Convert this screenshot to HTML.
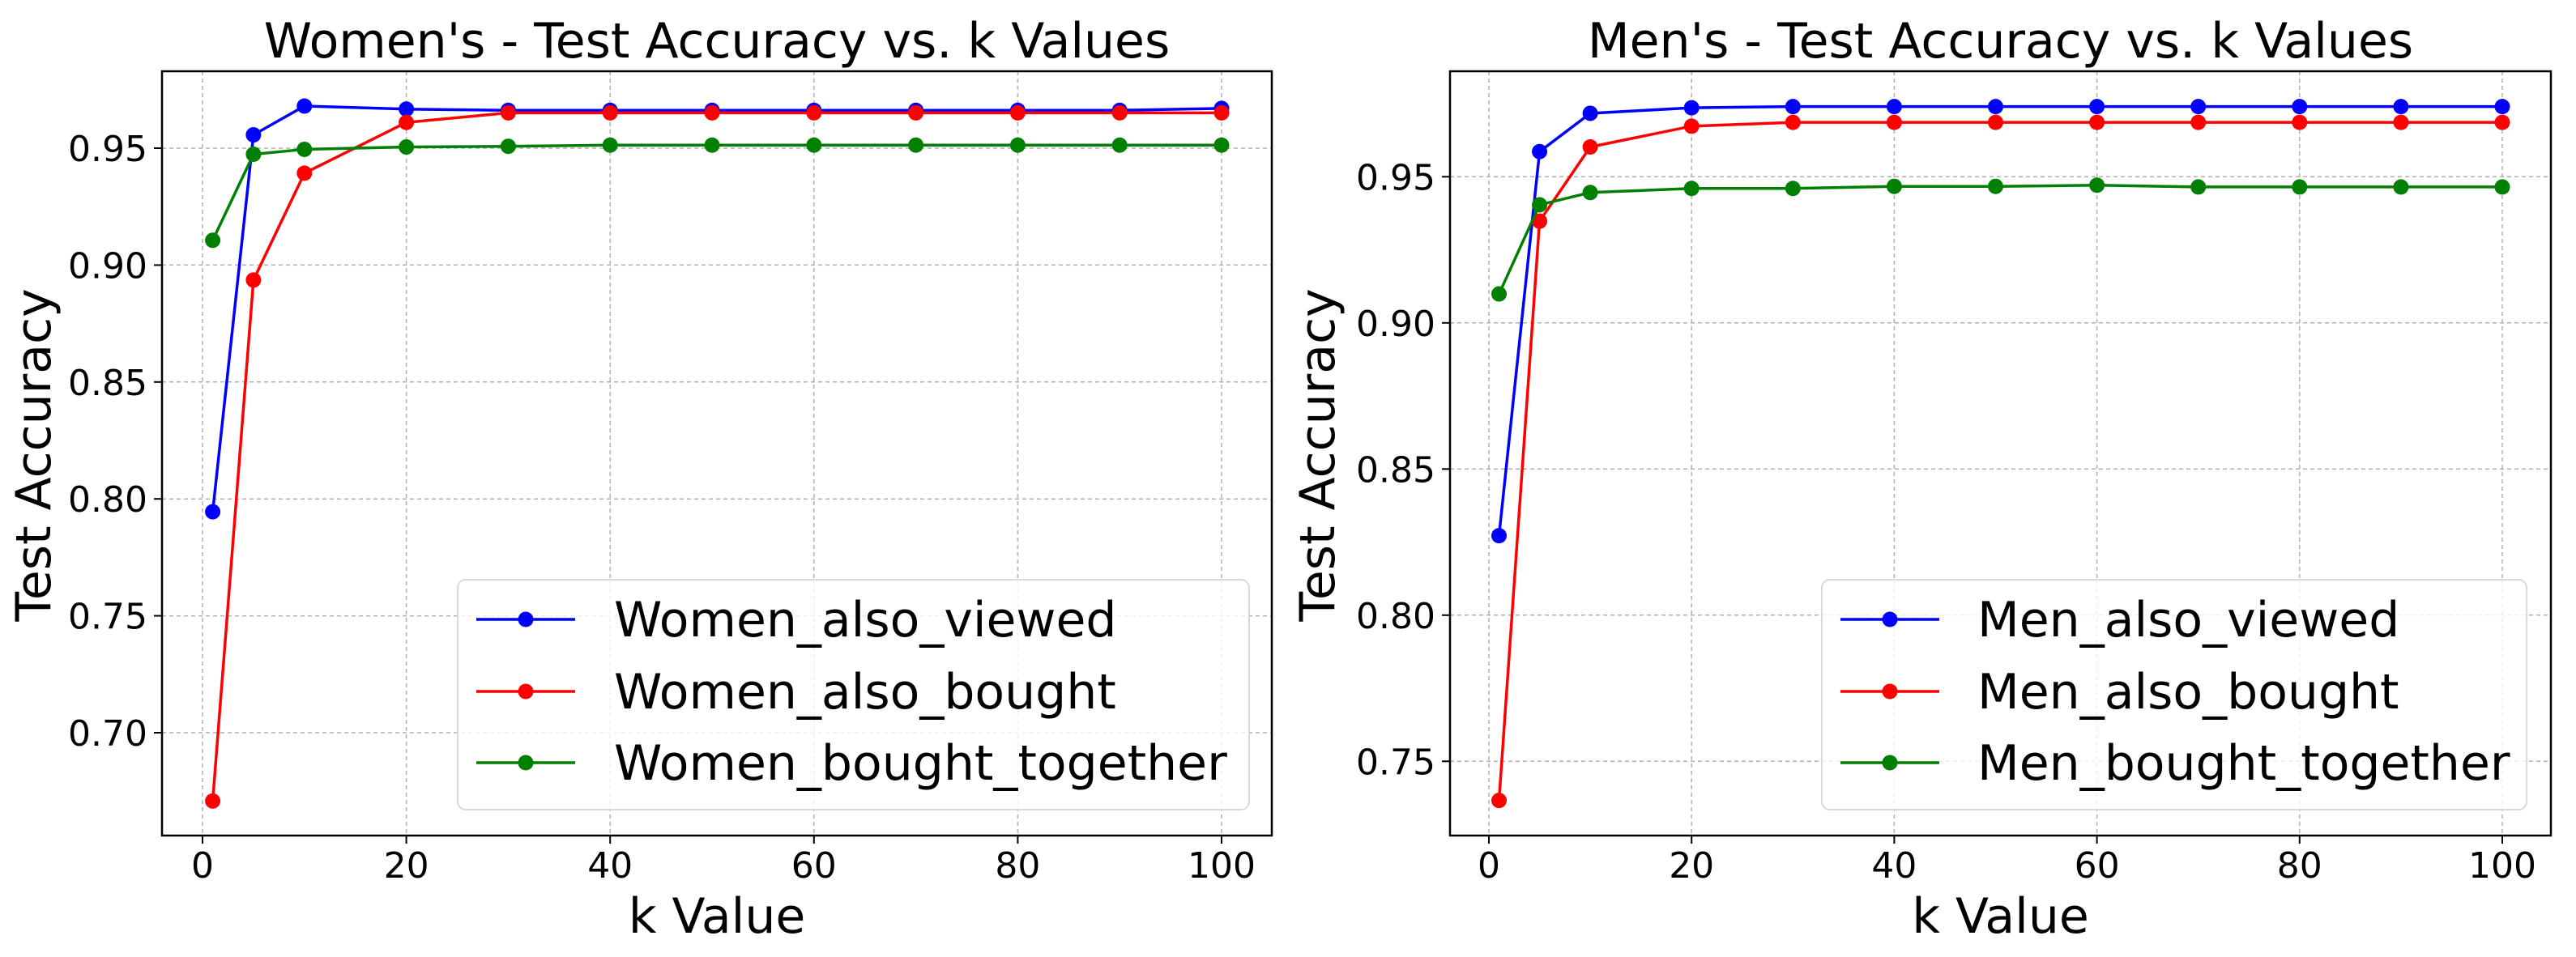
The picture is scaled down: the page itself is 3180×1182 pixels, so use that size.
<!DOCTYPE html>
<html><head><meta charset="utf-8"><style>html,body{margin:0;padding:0;background:#fff}svg{display:block}text{font-family:"DejaVu Sans","Liberation Sans",sans-serif;fill:#000}</style></head>
<body>
<svg id="chart" width="3180" height="1182" viewBox="0 0 3180 1182" xmlns="http://www.w3.org/2000/svg"></svg>
<script>
const kValues = [1,5,10,20,30,40,50,60,70,80,90,100];
const womenViewed = [0.7945,0.9557,0.968,0.9667,0.9662,0.9662,0.9662,0.9662,0.9662,0.9662,0.9662,0.967];
const womenBought = [0.6708,0.8936,0.9393,0.961,0.9651,0.9651,0.9651,0.9651,0.9651,0.9651,0.9651,0.9651];
const womenTogether = [0.9106,0.9474,0.9495,0.9505,0.9508,0.9513,0.9513,0.9513,0.9513,0.9513,0.9513,0.9513];
const menViewed = [0.8272,0.9586,0.9717,0.9736,0.974,0.974,0.974,0.974,0.974,0.974,0.974,0.974];
const menBought = [0.7366,0.9348,0.9602,0.9673,0.9686,0.9686,0.9686,0.9686,0.9686,0.9686,0.9686,0.9686];
const menTogether = [0.9099,0.9404,0.9446,0.946,0.946,0.9467,0.9467,0.9471,0.9465,0.9465,0.9465,0.9465];
const xTicks = [0,20,40,60,80,100];
const womenYTicks = [0.70,0.75,0.80,0.85,0.90,0.95];
const menYTicks = [0.75,0.80,0.85,0.90,0.95];
const womenLabels = ["Women_also_viewed","Women_also_bought","Women_bought_together"];
const menLabels = ["Men_also_viewed","Men_also_bought","Men_bought_together"];
const colors = ["#0000ff","#ff0000","#008000"];

const NS="http://www.w3.org/2000/svg";
const svg=document.getElementById('chart');
function mk(tag,attrs,parent){const e=document.createElementNS(NS,tag);for(const k in attrs)e.setAttribute(k,attrs[k]);(parent||svg).appendChild(e);return e;}

function panel(p){
  const g=mk('g',{});
  
  
  const X=v=>p.x0+(v-0)*(p.x100-p.x0)/100;
  const Y=v=>p.yRef+(p.vRef-v)/0.05*p.yStep;
  xTicks.forEach(t=>{
    const l=mk('line',{x1:X(t),x2:X(t),y1:p.top,y2:p.bottom,stroke:'#b0b0b0','stroke-width':1.5,'stroke-dasharray':'5,4'},g);
    
    
    const tk=mk('line',{x1:X(t),x2:X(t),y1:p.bottom,y2:p.bottom+10,stroke:'#000','stroke-width':2},g);
    
    
    const tx=mk('text',{x:X(t),y:1084,'font-size':44,'text-anchor':'middle'},g);
    tx.textContent=t;
    
    
  });
  p.yTicks.forEach(t=>{
    const l=mk('line',{x1:p.left,x2:p.right,y1:Y(t),y2:Y(t),stroke:'#b0b0b0','stroke-width':1.5,'stroke-dasharray':'5,4'},g);
    
    
    const tk=mk('line',{x1:p.left-10,x2:p.left,y1:Y(t),y2:Y(t),stroke:'#000','stroke-width':2},g);
    
    
    const tx=mk('text',{x:p.left-18,y:Y(t)+16,'font-size':44,'text-anchor':'end'},g);
    tx.textContent=t.toFixed(2);
    
    
  });
  p.series.forEach((s,i)=>{
    const pts=kValues.map((k,j)=>X(k)+','+Y(s[j])).join(' ');
    const pl=mk('polyline',{points:pts,fill:'none',stroke:colors[i],'stroke-width':3.5},g);
    
    
    kValues.forEach((k,j)=>{
      const c=mk('circle',{cx:X(k),cy:Y(s[j]),r:9.5,fill:colors[i]},g);
      
      
    });
  });
  const fr=mk('rect',{x:p.left,y:p.top,width:p.right-p.left,height:p.bottom-p.top,fill:'none',stroke:'#000','stroke-width':2.5},g);
  
  
  const lg=mk('g',{},g);
  
  
  const lb=mk('rect',{x:p.lgX,y:716,width:p.lgW,height:284,rx:10,fill:'#fff','fill-opacity':0.8,stroke:'#d9d9d9','stroke-width':2},lg);
  
  
  [765,854,942].forEach((ry,i)=>{
    const e=mk('g',{},lg);
    
    
    mk('line',{x1:p.lgLine,x2:p.lgLine+122,y1:ry,y2:ry,stroke:colors[i],'stroke-width':3.5},e);
    mk('circle',{cx:p.lgLine+61,cy:ry,r:9.5,fill:colors[i]},e);
    const t=mk('text',{x:p.lgText,y:ry+21,'font-size':60},e);
    t.textContent=p.labels[i];
  });
  const ti=mk('text',{x:(p.left+p.right)/2,y:71,'font-size':60,'text-anchor':'middle'},g);
  ti.textContent=p.title;
  
  
  const xl=mk('text',{x:(p.left+p.right)/2,y:1152,'font-size':60,'text-anchor':'middle'},g);
  xl.textContent='k Value';
  
  
  const yl=mk('text',{x:0,y:0,'font-size':60,'text-anchor':'middle',transform:`translate(${p.ylX},562) rotate(-90)`},g);
  yl.textContent='Test Accuracy';
  
  
}

panel({name:'womens-panel',title:"Women's - Test Accuracy vs. k Values",left:200,right:1570,top:88,bottom:1032,
  x0:250,x100:1508,yRef:183,vRef:0.95,yStep:144.4,yTicks:womenYTicks,
  series:[womenViewed,womenBought,womenTogether],labels:womenLabels,
  lgX:565,lgW:977,lgLine:588,lgText:758,ylX:62});
panel({name:'mens-panel',title:"Men's - Test Accuracy vs. k Values",left:1790,right:3149,top:88,bottom:1032,
  x0:1838,x100:3089,yRef:218.3,vRef:0.95,yStep:180.5,yTicks:menYTicks,
  series:[menViewed,menBought,menTogether],labels:menLabels,
  lgX:2249,lgW:870,lgLine:2272,lgText:2441,ylX:1647});
</script>
</body></html>
